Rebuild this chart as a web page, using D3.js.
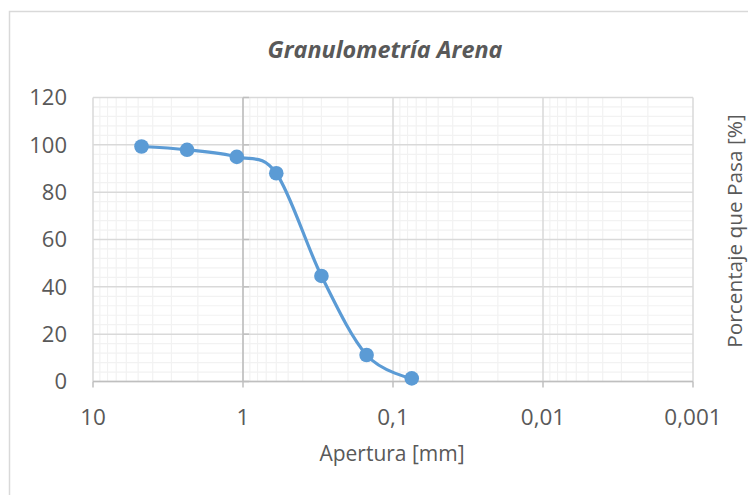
<!DOCTYPE html>
<meta charset="utf-8">
<style>
  body { margin: 0; background: #fff; }
  text { font-family: "Open Sans", sans-serif; fill: #595959; }
</style>
<svg width="748" height="495"></svg>
<script src="https://d3js.org/d3.v7.min.js"></script>
<script>

  // sieve opening (mm) and percent passing
  var apertura = [4.75, 2.36, 1.1, 0.6, 0.3, 0.15, 0.075];
  var pasa = [99.3, 97.9, 94.9, 88.0, 44.6, 11.2, 1.3];

  var xTicks = [10, 1, 0.1, 0.01, 0.001];
  var xTickLabels = ["10", "1", "0,1", "0,01", "0,001"];
  var yTicks = [0, 20, 40, 60, 80, 100, 120];

  var svg = d3.select("svg");

  // chart border
  svg.append("rect")
    .attr("x", 9.5).attr("y", 11.5)
    .attr("width", 760).attr("height", 500)
    .attr("fill", "none")
    .attr("stroke", "#d9d9d9")
    .attr("stroke-width", 1.5);

  // scales (x reversed log)
  var x = d3.scaleLog().domain([10, 0.001]).range([93, 693]);
  var y = d3.scaleLinear().domain([0, 120]).range([381.5, 97.5]);

  // minor gridlines
  var xMinor = [];
  [-3, -2, -1, 0].forEach(function (e) {
    for (var k = 2; k <= 9; k++) xMinor.push(k * Math.pow(10, e));
  });
  var yMinor = d3.range(0, 121, 4).filter(function (v) { return v % 20 !== 0; });

  var grid = svg.append("g");
  grid.selectAll(".vminor").data(xMinor).enter().append("line")
    .attr("x1", function (d) { return x(d); }).attr("x2", function (d) { return x(d); })
    .attr("y1", y(120)).attr("y2", y(0))
    .attr("stroke", "#f2f2f2").attr("stroke-width", 1.2);
  grid.selectAll(".hminor").data(yMinor).enter().append("line")
    .attr("x1", x(10)).attr("x2", x(0.001))
    .attr("y1", function (d) { return y(d); }).attr("y2", function (d) { return y(d); })
    .attr("stroke", "#f2f2f2").attr("stroke-width", 1.2);

  // major gridlines
  grid.selectAll(".vmajor").data(xTicks).enter().append("line")
    .attr("x1", function (d) { return x(d); }).attr("x2", function (d) { return x(d); })
    .attr("y1", y(120)).attr("y2", y(0))
    .attr("stroke", "#d9d9d9").attr("stroke-width", 1.5);
  grid.selectAll(".hmajor").data(yTicks).enter().append("line")
    .attr("x1", x(10)).attr("x2", x(0.001))
    .attr("y1", function (d) { return y(d); }).attr("y2", function (d) { return y(d); })
    .attr("stroke", "#d9d9d9").attr("stroke-width", 1.5);

  // y axis line crosses at x = 1, ticks to the right
  svg.append("line")
    .attr("x1", x(1)).attr("x2", x(1))
    .attr("y1", y(120)).attr("y2", y(0))
    .attr("stroke", "#bfbfbf").attr("stroke-width", 1.5);
  svg.selectAll(".ytick").data(yTicks).enter().append("line")
    .attr("x1", x(1)).attr("x2", x(1) + 6)
    .attr("y1", function (d) { return y(d); }).attr("y2", function (d) { return y(d); })
    .attr("stroke", "#bfbfbf").attr("stroke-width", 1.5);

  // x axis line + ticks
  svg.append("line")
    .attr("x1", x(10)).attr("x2", x(0.001))
    .attr("y1", y(0)).attr("y2", y(0))
    .attr("stroke", "#bfbfbf").attr("stroke-width", 1.5);
  svg.selectAll(".xtick").data(xTicks).enter().append("line")
    .attr("x1", function (d) { return x(d); }).attr("x2", function (d) { return x(d); })
    .attr("y1", y(0)).attr("y2", y(0) + 6)
    .attr("stroke", "#bfbfbf").attr("stroke-width", 1.5);

  // tick labels
  svg.selectAll(".ylab").data(yTicks).enter().append("text")
    .attr("x", 67)
    .attr("y", function (d) { return y(d); })
    .attr("dy", "0.35em")
    .attr("text-anchor", "end")
    .style("font-size", "22px")
    .text(function (d) { return d; });

  svg.selectAll(".xlab").data(xTicks).enter().append("text")
    .attr("x", function (d) { return x(d); })
    .attr("y", 425)
    .attr("text-anchor", "middle")
    .style("font-size", "22.5px")
    .text(function (d, i) { return xTickLabels[i]; });

  // series
  var pts = apertura.map(function (a, i) { return [a, pasa[i]]; });
  var line = d3.line()
    .curve(d3.curveCatmullRom.alpha(0))
    .x(function (d) { return x(d[0]); })
    .y(function (d) { return y(d[1]); });

  svg.append("path")
    .datum(pts)
    .attr("d", line)
    .attr("fill", "none")
    .attr("stroke", "#5b9bd5")
    .attr("stroke-width", 3.2);

  svg.selectAll(".pt").data(pts).enter().append("circle")
    .attr("cx", function (d) { return x(d[0]); })
    .attr("cy", function (d) { return y(d[1]); })
    .attr("r", 7.3)
    .attr("fill", "#5b9bd5");

  // titles
  svg.append("text")
    .attr("x", 385).attr("y", 58)
    .attr("text-anchor", "middle")
    .style("font-size", "23.4px")
    .style("font-weight", "bold")
    .style("font-style", "italic")
    .text("Granulometría Arena");

  svg.append("text")
    .attr("x", 392).attr("y", 461)
    .attr("text-anchor", "middle")
    .style("font-size", "21px")
    .text("Apertura [mm]");

  svg.append("text")
    .attr("transform", "translate(742,231) rotate(-90)")
    .attr("text-anchor", "middle")
    .style("font-size", "20.8px")
    .text("Porcentaje que Pasa [%]");

</script>
